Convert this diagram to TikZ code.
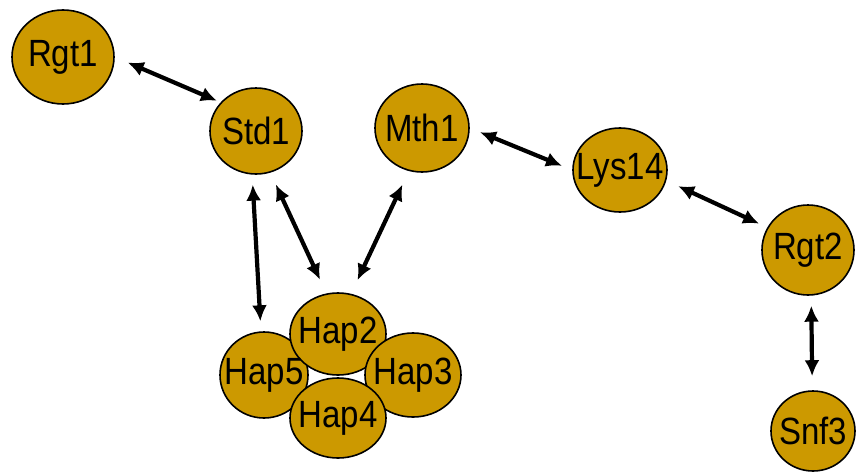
\documentclass[tikz,border=0pt]{standalone}
\usepackage{fontspec}
\setmainfont{Liberation Sans}
\usetikzlibrary{shapes.geometric,arrows.meta}
\definecolor{protein}{RGB}{204,153,0}
\begin{document}
\begin{tikzpicture}[x=1pt,y=-1pt,
  prot/.style={ellipse,draw=black,line width=1.6pt,fill=protein,inner sep=0pt},
  lbl/.style={font=\fontsize{33}{33}\selectfont,inner sep=0pt,yscale=1.15},
  biarrow/.style={line width=4.2pt,{Latex[length=16pt,width=15pt]}-{Latex[length=16pt,width=15pt]}}]
\useasboundingbox (0,0) rectangle (860,472);

% protein shapes (the Hap complex overlaps, drawn back to front)
\node[prot,minimum width=102pt,minimum height=94pt] (Rgt1) at (63,57) {};
\node[prot,minimum width=92pt,minimum height=86pt] (Std1) at (256,131) {};
\node[prot,minimum width=94pt,minimum height=88pt] (Mth1) at (422,128) {};
\node[prot,minimum width=94pt,minimum height=84pt] (Lys14) at (620,170) {};
\node[prot,minimum width=92pt,minimum height=90pt] (Rgt2) at (808,250) {};
\node[prot,minimum width=84pt,minimum height=80pt] (Snf3) at (813,431) {};
\node[prot,minimum width=88pt,minimum height=86pt] (Hap5) at (264,375) {};
\node[prot,minimum width=96pt,minimum height=82pt] (Hap2) at (338,334) {};
\node[prot,minimum width=96pt,minimum height=84pt] (Hap3) at (413,375) {};
\node[prot,minimum width=96pt,minimum height=80pt] (Hap4) at (338,418) {};

% protein names on top of all shapes
\node[lbl] (Rgt1t) at (Rgt1) {Rgt1};
\node[lbl] (Std1t) at (Std1) {Std1};
\node[lbl] (Mth1t) at (Mth1) {Mth1};
\node[lbl] (Lys14t) at (Lys14) {Lys14};
\node[lbl] (Rgt2t) at (Rgt2) {Rgt2};
\node[lbl] (Snf3t) at (Snf3) {Snf3};
\node[lbl] (Hap5t) at (Hap5) {Hap5};
\node[lbl] (Hap2t) at (Hap2) {Hap2};
\node[lbl] (Hap3t) at (Hap3) {Hap3};
\node[lbl] (Hap4t) at (Hap4) {Hap4};

% interactions
\draw[biarrow,shorten <=14pt,shorten >=4pt] (Rgt1.0) -- (Std1.141);
\draw[biarrow,shorten <=10pt,shorten >=10pt] (Std1.-95) -- (Hap5.94);
\draw[biarrow,shorten <=13pt,shorten >=15pt] (Std1.-71) -- (Hap2.106);
\draw[biarrow,shorten <=15pt,shorten >=15pt] (Hap2.72) -- (Mth1.-107);
\draw[biarrow,shorten <=11pt,shorten >=11pt] (Mth1.0) -- (Lys14.180);
\draw[biarrow,shorten <=13pt,shorten >=9pt] (Lys14.-13) -- (Rgt2.151);
\draw[biarrow,shorten <=10pt,shorten >=14pt] (Rgt2.-86) -- (Snf3.91);
\end{tikzpicture}
\end{document}
